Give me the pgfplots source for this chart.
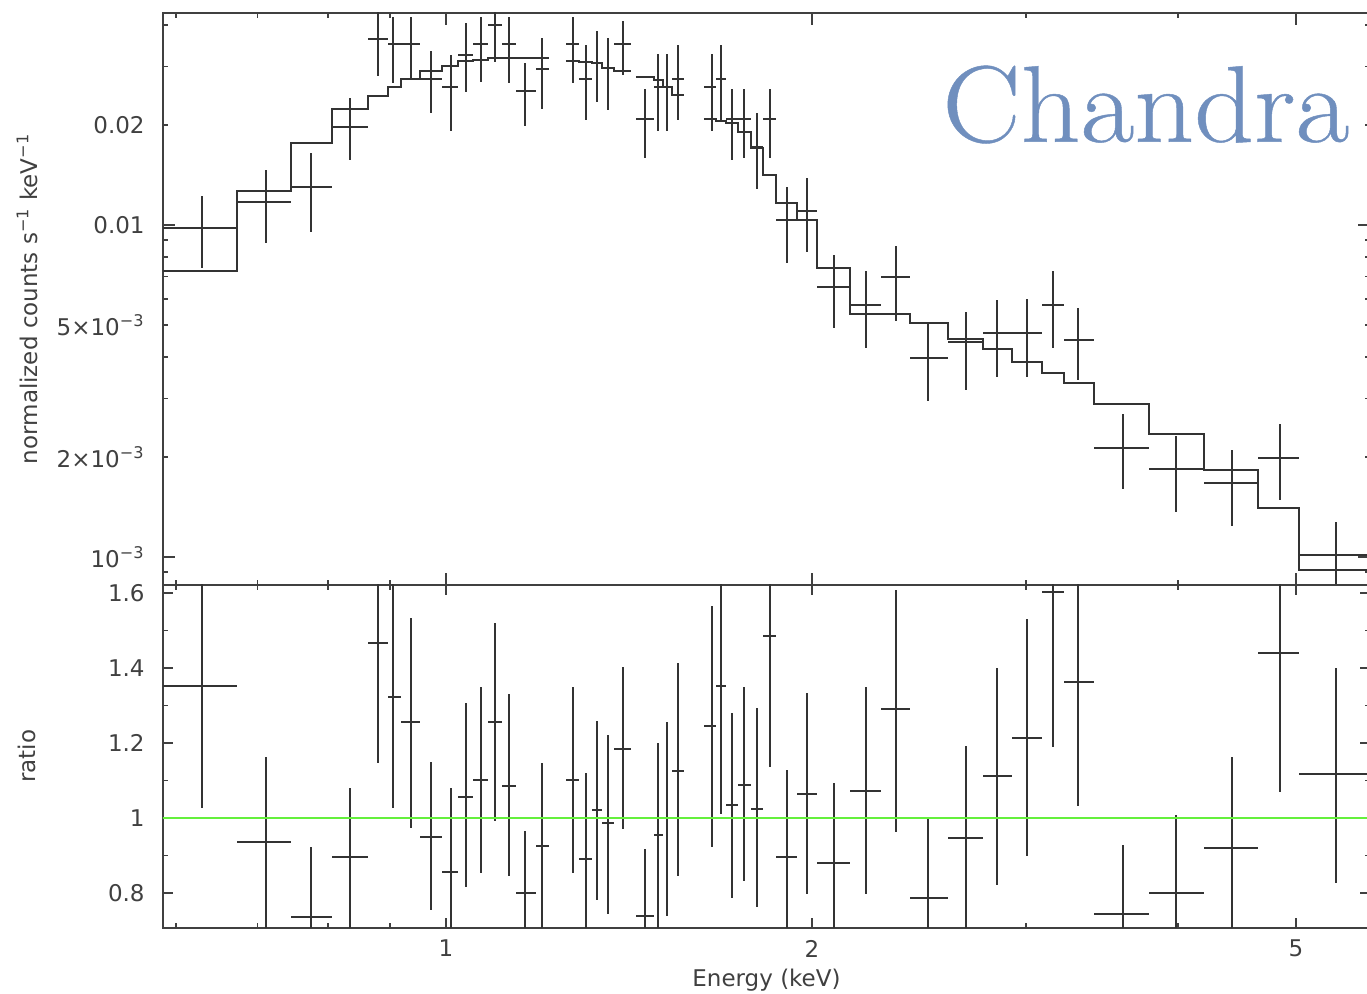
\documentclass[border=0pt]{standalone}
\usepackage{pgfplots}
\usepackage{pgfplotstable}
\pgfplotsset{compat=1.18}
\usepackage{fontspec}
\newfontfamily\dv{DejaVu Sans}
\newfontfamily\chfont[FakeStretch=1.075, FakeBold=0.4]{Latin Modern Roman}
\newcommand\tickfont{\dv\fontsize{11.5pt}{13pt}\selectfont}
\definecolor{chandra}{RGB}{112,143,190}
\definecolor{ratiogreen}{RGB}{100,240,60}

\pgfplotstableread{
x xlo xhi y ylo yhi
0.6297 0.5852 0.6733 0.009794 0.007424 0.012229
0.7108 0.6733 0.7457 0.011753 0.008826 0.014641
0.7744 0.7457 0.8059 0.013043 0.009526 0.016479
0.8337 0.8059 0.8627 0.019776 0.015696 0.024174
0.8786 0.8627 0.8960 0.03625 0.028105 0.0460
0.9050 0.8960 0.9184 0.035014 0.026773 0.04241
0.9354 0.9184 0.9520 0.035014 0.027718 0.042322
0.9720 0.9520 0.9925 0.02747 0.021793 0.033497
1.0095 0.9925 1.0230 0.025983 0.019236 0.032514
1.0380 1.0230 1.0525 0.032514 0.025203 0.040684
1.0679 1.0525 1.0827 0.035014 0.026903 0.042234
1.0971 1.0827 1.1118 0.04004 0.031039 0.0500
1.1268 1.1118 1.1418 0.035014 0.026829 0.042234
1.1612 1.1418 1.1858 0.025325 0.019914 0.030697
1.1985 1.1858 1.2153 0.0295 0.022313 0.036502
1.2711 1.2551 1.2864 0.035014 0.026829 0.042234
1.3035 1.2864 1.3185 0.027527 0.020718 0.034844
1.3303 1.3185 1.3437 0.030825 0.023513 0.038487
1.3583 1.3437 1.3746 0.029643 0.022206 0.036502
1.3974 1.3746 1.4196 0.035014 0.028301 0.041167
1.4576 1.4330 1.4826 0.020862 0.015882 0.025625
1.4947 1.4826 1.5081 0.026128 0.019196 0.032672
1.5209 1.5081 1.5340 0.025983 0.019196 0.03274
1.5525 1.5340 1.5693 0.027527 0.020718 0.034844
1.6537 1.6298 1.6673 0.025983 0.019196 0.032672
1.6821 1.6673 1.6991 0.027527 0.020718 0.034844
1.7175 1.6991 1.7382 0.020862 0.015696 0.025625
1.7596 1.7382 1.7815 0.020862 0.015882 0.025625
1.8008 1.7815 1.8224 0.017214 0.012836 0.021748
1.8456 1.8224 1.8678 0.020862 0.015882 0.025625
1.9060 1.8678 1.9436 0.010353 0.007667 0.012989
1.9822 1.9436 2.0190 0.01102 0.008308 0.013883
2.0830 2.0190 2.1489 0.006521 0.004885 0.008122
2.2148 2.1489 2.2786 0.005742 0.00427 0.007284
2.3434 2.2786 2.4076 0.006987 0.005149 0.008662
2.4924 2.4076 2.5866 0.003968 0.002956 0.005057
2.6752 2.5866 2.7643 0.004451 0.003184 0.005481
2.8371 2.7643 2.9205 0.004738 0.003477 0.005943
3.0029 2.9205 3.0912 0.004738 0.003477 0.005972
3.1535 3.0912 3.2226 0.005742 0.00427 0.007284
3.3115 3.2226 3.4111 0.004503 0.003413 0.005612
3.6020 3.4111 3.7857 0.002126 0.0016 0.00269
3.9841 3.7857 4.2017 0.001841 0.001363 0.002314
4.4268 4.2017 4.6528 0.001667 0.00124 0.002101
4.8513 4.6528 5.0290 0.001991 0.001485 0.002516
5.3953 5.0290 5.7600 0.0010139 0.000742 0.001277
}\specdata

\pgfplotstableread{
x xlo xhi r rlo rhi
0.6297 0.5852 0.6733 1.352 1.026 1.75
0.7108 0.6733 0.7457 0.935 0.60 1.163
0.7744 0.7457 0.8059 0.735 0.60 0.923
0.8337 0.8059 0.8627 0.897 0.60 1.08
0.8786 0.8627 0.8960 1.466 1.146 1.75
0.9050 0.8960 0.9184 1.323 1.026 1.75
0.9354 0.9184 0.9520 1.255 0.973 1.534
0.9720 0.9520 0.9925 0.95 0.755 1.150
1.0095 0.9925 1.0230 0.857 0.60 1.079
1.0380 1.0230 1.0525 1.057 0.817 1.306
1.0679 1.0525 1.0827 1.101 0.854 1.350
1.0971 1.0827 1.1118 1.255 0.993 1.521
1.1268 1.1118 1.1418 1.086 0.846 1.330
1.1612 1.1418 1.1858 0.80 0.60 0.966
1.1985 1.1858 1.2153 0.926 0.60 1.147
1.2711 1.2551 1.2864 1.101 0.854 1.350
1.3035 1.2864 1.3185 0.892 0.60 1.119
1.3303 1.3185 1.3437 1.021 0.781 1.259
1.3583 1.3437 1.3746 0.986 0.743 1.221
1.3974 1.3746 1.4196 1.184 0.970 1.402
1.4576 1.4330 1.4826 0.74 0.60 0.917
1.4947 1.4826 1.5081 0.956 0.60 1.201
1.5209 1.5081 1.5340 1.0 0.739 1.255
1.5525 1.5340 1.5693 1.126 0.846 1.413
1.6537 1.6298 1.6673 1.245 0.923 1.565
1.6821 1.6673 1.6991 1.352 1.010 1.75
1.7175 1.6991 1.7382 1.035 0.786 1.279
1.7596 1.7382 1.7815 1.088 0.832 1.350
1.8008 1.7815 1.8224 1.024 0.762 1.293
1.8456 1.8224 1.8678 1.484 1.137 1.75
1.9060 1.8678 1.9436 0.897 0.60 1.128
1.9822 1.9436 2.0190 1.063 0.797 1.334
2.0830 2.0190 2.1489 0.881 0.60 1.093
2.2148 2.1489 2.2786 1.072 0.797 1.350
2.3434 2.2786 2.4076 1.29 0.962 1.608
2.4924 2.4076 2.5866 0.787 0.60 0.999
2.6752 2.5866 2.7643 0.946 0.60 1.193
2.8371 2.7643 2.9205 1.113 0.821 1.399
3.0029 2.9205 3.0912 1.214 0.899 1.530
3.1535 3.0912 3.2226 1.603 1.19 1.75
3.3115 3.2226 3.4111 1.362 1.033 1.75
3.6020 3.4111 3.7857 0.744 0.60 0.928
3.9841 3.7857 4.2017 0.80 0.60 1.008
4.4268 4.2017 4.6528 0.921 0.60 1.163
4.8513 4.6528 5.0290 1.441 1.069 1.75
5.3953 5.0290 5.7600 1.117 0.826 1.401
}\ratiodata

\begin{document}
\begin{tikzpicture}
\useasboundingbox (0pt,0pt) rectangle (683.5pt,496.5pt);

\begin{axis}[
  scale only axis, width=603.5pt, height=286.15pt,
  at={(81.5pt,204pt)}, anchor=south west,
  xmode=log, xmin=0.5852, xmax=5.753,
  ymode=log, ymin=0.0008234, ymax=0.04359,
  axis line style={black!75, line width=1.2pt},
  tick style={black!75, line width=0.9pt},
  major tick length=6pt, minor tick length=2.5pt,
  tick align=inside,
  xtick={1,2,5}, minor xtick={0.6,0.7,0.8,0.9,3,4},
  xticklabels={},
  ytick={0.001,0.01}, yticklabels={10\textsuperscript{−3},0.01},
  extra y ticks={0.002,0.005,0.02},
  extra y tick labels={2×10\textsuperscript{−3},5×10\textsuperscript{−3},0.02},
  extra y tick style={major tick length=2.5pt},
  minor ytick={0.0009,0.003,0.004,0.006,0.007,0.008,0.009,0.03,0.04},
  y tick label style={font=\tickfont, text=black!75, anchor=east, inner sep=0pt, xshift=-9pt},
  ylabel={normalized counts s\textsuperscript{−1} keV\textsuperscript{−1}},
  ylabel style={font=\tickfont, text=black!75, at={(axis description cs:-0.1127,0.5)}, anchor=center},
]
\addplot[draw=none, mark=none, forget plot,
    error bars/x dir=both, error bars/x explicit,
    error bars/y dir=both, error bars/y explicit,
    error bars/error mark=none,
    error bars/error bar style={draw=black!80, line width=1pt}]
  table[x=x, y=y,
  x error plus expr=\thisrow{xhi}-\thisrow{x},
  x error minus expr=\thisrow{x}-\thisrow{xlo},
  y error plus expr=\thisrow{yhi}-\thisrow{y},
  y error minus expr=\thisrow{y}-\thisrow{ylo}] {\specdata};
\addplot[const plot mark left, black!80, line width=1pt, mark=none] coordinates {
(0.5852,0.00727) (0.6733,0.012657) (0.7457,0.017625) (0.8059,0.022313)
(0.8627,0.024513) (0.8960,0.026092) (0.9184,0.02747) (0.9520,0.029095)
(0.9925,0.030126) (1.0230,0.03119) (1.0525,0.031406) (1.0827,0.031845)
(1.1118,0.031912) (1.2153,0.031912)};
\addplot[const plot mark left, black!80, line width=1pt, mark=none] coordinates {
(1.2551,0.03119) (1.2864,0.03091) (1.3185,0.030697) (1.3437,0.029643)
(1.3746,0.029095) (1.4196,0.029095)};
\addplot[const plot mark left, black!80, line width=1pt, mark=none] coordinates {
(1.4330,0.027969) (1.4826,0.027336) (1.5081,0.025983) (1.5340,0.024632)
(1.5693,0.024632)};
\addplot[const plot mark left, black!80, line width=1pt, mark=none] coordinates {
(1.6298,0.020862) (1.6673,0.020574) (1.6991,0.020249) (1.7382,0.019103)
(1.7815,0.017024) (1.8224,0.014143) (1.8678,0.011623) (1.9436,0.010353)
(2.0190,0.007406) (2.1489,0.005394) (2.4076,0.005078) (2.5866,0.004535)
(2.7643,0.004232) (2.9205,0.003867) (3.0912,0.00359) (3.2226,0.003335)
(3.4111,0.002884) (3.7857,0.002342) (4.2017,0.001828) (4.6528,0.001402)
(5.0290,0.0009138) (5.7600,0.0009138)};
\end{axis}

\begin{axis}[
  scale only axis, width=603.5pt, height=171.35pt,
  at={(81.5pt,32.65pt)}, anchor=south west,
  xmode=log, xmin=0.5852, xmax=5.753,
  ymin=0.7075, ymax=1.6213,
  axis line style={black!75, line width=1.2pt},
  tick style={black!75, line width=0.9pt},
  major tick length=5pt, minor tick length=2.5pt,
  tick align=inside,
  xtick={1,2,5}, minor xtick={0.6,0.7,0.8,0.9,3,4},
  xticklabels={1,2,5},
  x tick label style={font=\tickfont, text=black!75, anchor=north, inner sep=0pt, yshift=-6pt},
  ytick={0.8,1,1.2,1.4,1.6}, yticklabels={0.8,1,1.2,1.4,1.6},
  minor ytick={0.9,1.1,1.3,1.5},
  y tick label style={font=\tickfont, text=black!75, anchor=east, inner sep=0pt, xshift=-9pt},
  ylabel={ratio},
  ylabel style={font=\tickfont, text=black!75, at={(axis description cs:-0.1127,0.5)}, anchor=center},
  xlabel={Energy (keV)},
  xlabel style={font=\tickfont, text=black!75, at={(axis description cs:0.5,-0.173)}, anchor=base},
]
\addplot[draw=none, mark=none, forget plot,
    error bars/x dir=both, error bars/x explicit,
    error bars/y dir=both, error bars/y explicit,
    error bars/error mark=none,
    error bars/error bar style={draw=black!80, line width=1pt}]
  table[x=x, y=r,
  x error plus expr=\thisrow{xhi}-\thisrow{x},
  x error minus expr=\thisrow{x}-\thisrow{xlo},
  y error plus expr=\thisrow{rhi}-\thisrow{r},
  y error minus expr=\thisrow{r}-\thisrow{rlo}] {\ratiodata};
\addplot[ratiogreen, line width=0.9pt, mark=none] coordinates {(0.5,1) (6,1)};
\end{axis}

\node[anchor=base west, inner sep=0pt, text=chandra, font=\chfont\fontsize{54.5}{60}\selectfont] at (471pt,425.6pt) {Chandra};
\end{tikzpicture}
\end{document}
